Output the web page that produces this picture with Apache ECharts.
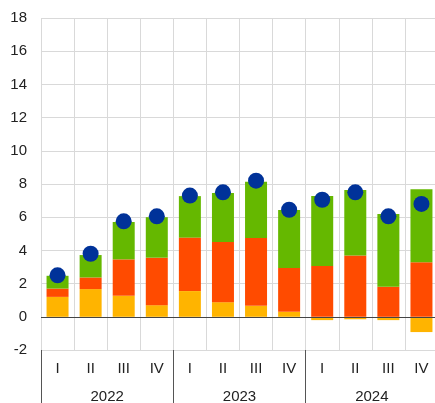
<!DOCTYPE html>
<html>
<head>
<meta charset="utf-8">
<script src="https://cdn.jsdelivr.net/npm/echarts@6/dist/echarts.min.js"></script>
<style>
  html, body { margin: 0; padding: 0; background: #fff; }
  #main { width: 435px; height: 403px; }
</style>
</head>
<body>
<div id="main"></div>
<script>
// quarter and year labels
const quarters = ['I', 'II', 'III', 'IV', 'I', 'II', 'III', 'IV', 'I', 'II', 'III', 'IV'];
const years = ['2022', '2023', '2024'];
// stacked components
const yellowVals = [1.2, 1.67, 1.27, 0.7, 1.55, 0.88, 0.66, 0.3, -0.2, -0.15, -0.2, -0.92];
const orangeVals = [0.5, 0.7, 2.19, 2.86, 3.22, 3.62, 4.09, 2.64, 3.06, 3.7, 1.81, 3.28];
const greenVals = [0.77, 1.35, 2.25, 2.44, 2.5, 2.96, 3.39, 3.5, 4.22, 3.94, 4.38, 4.4];
// total (dots)
const totalVals = [2.5, 3.8, 5.75, 6.05, 7.3, 7.5, 8.2, 6.45, 7.05, 7.5, 6.05, 6.8];

let myChart = echarts.init(document.getElementById('main'));

const txt = { fontFamily: 'Liberation Sans, Arial, sans-serif', fontSize: 15, color: '#222' };

let option = {
    animation: false,
    grid: { left: 41, top: 18, width: 397, height: 332, outerBoundsMode: 'none' },
    xAxis: [
        {
            type: 'category',
            data: quarters,
            position: 'bottom',
            axisLine: { show: false },
            axisTick: { show: false },
            splitLine: { show: true, interval: 0, lineStyle: { color: '#d9d9d9' } },
            axisLabel: Object.assign({ margin: 11, interval: 0 }, txt)
        },
        {
            type: 'category',
            data: years,
            position: 'bottom',
            axisLine: { show: false },
            axisTick: { show: true, length: 56, lineStyle: { color: '#555' } },
            axisLabel: Object.assign({ margin: 39 }, txt)
        }
    ],
    yAxis: {
        type: 'value',
        min: -2,
        max: 18,
        interval: 2,
        axisLine: { show: false },
        axisTick: { show: false },
        splitLine: { lineStyle: { color: '#d9d9d9' } },
        axisLabel: Object.assign({ margin: 14 }, txt)
    },
    series: [
        {
            type: 'bar', stack: 'a', barWidth: 22,
            itemStyle: { color: '#FFB400' },
            data: yellowVals
        },
        {
            type: 'bar', stack: 'a', barWidth: 22,
            itemStyle: { color: '#FF4B00' },
            data: orangeVals
        },
        {
            type: 'bar', stack: 'a', barWidth: 22,
            itemStyle: { color: '#65B800' },
            data: greenVals,
            markLine: {
                silent: true,
                symbol: 'none',
                label: { show: false },
                lineStyle: { color: '#444', type: 'solid', width: 1 },
                data: [{ yAxis: 0 }]
            }
        },
        {
            type: 'scatter',
            symbolSize: 16,
            itemStyle: { color: '#003299', opacity: 1 },
            z: 5,
            data: totalVals
        }
    ]
};
myChart.setOption(option);
</script>
</body>
</html>
